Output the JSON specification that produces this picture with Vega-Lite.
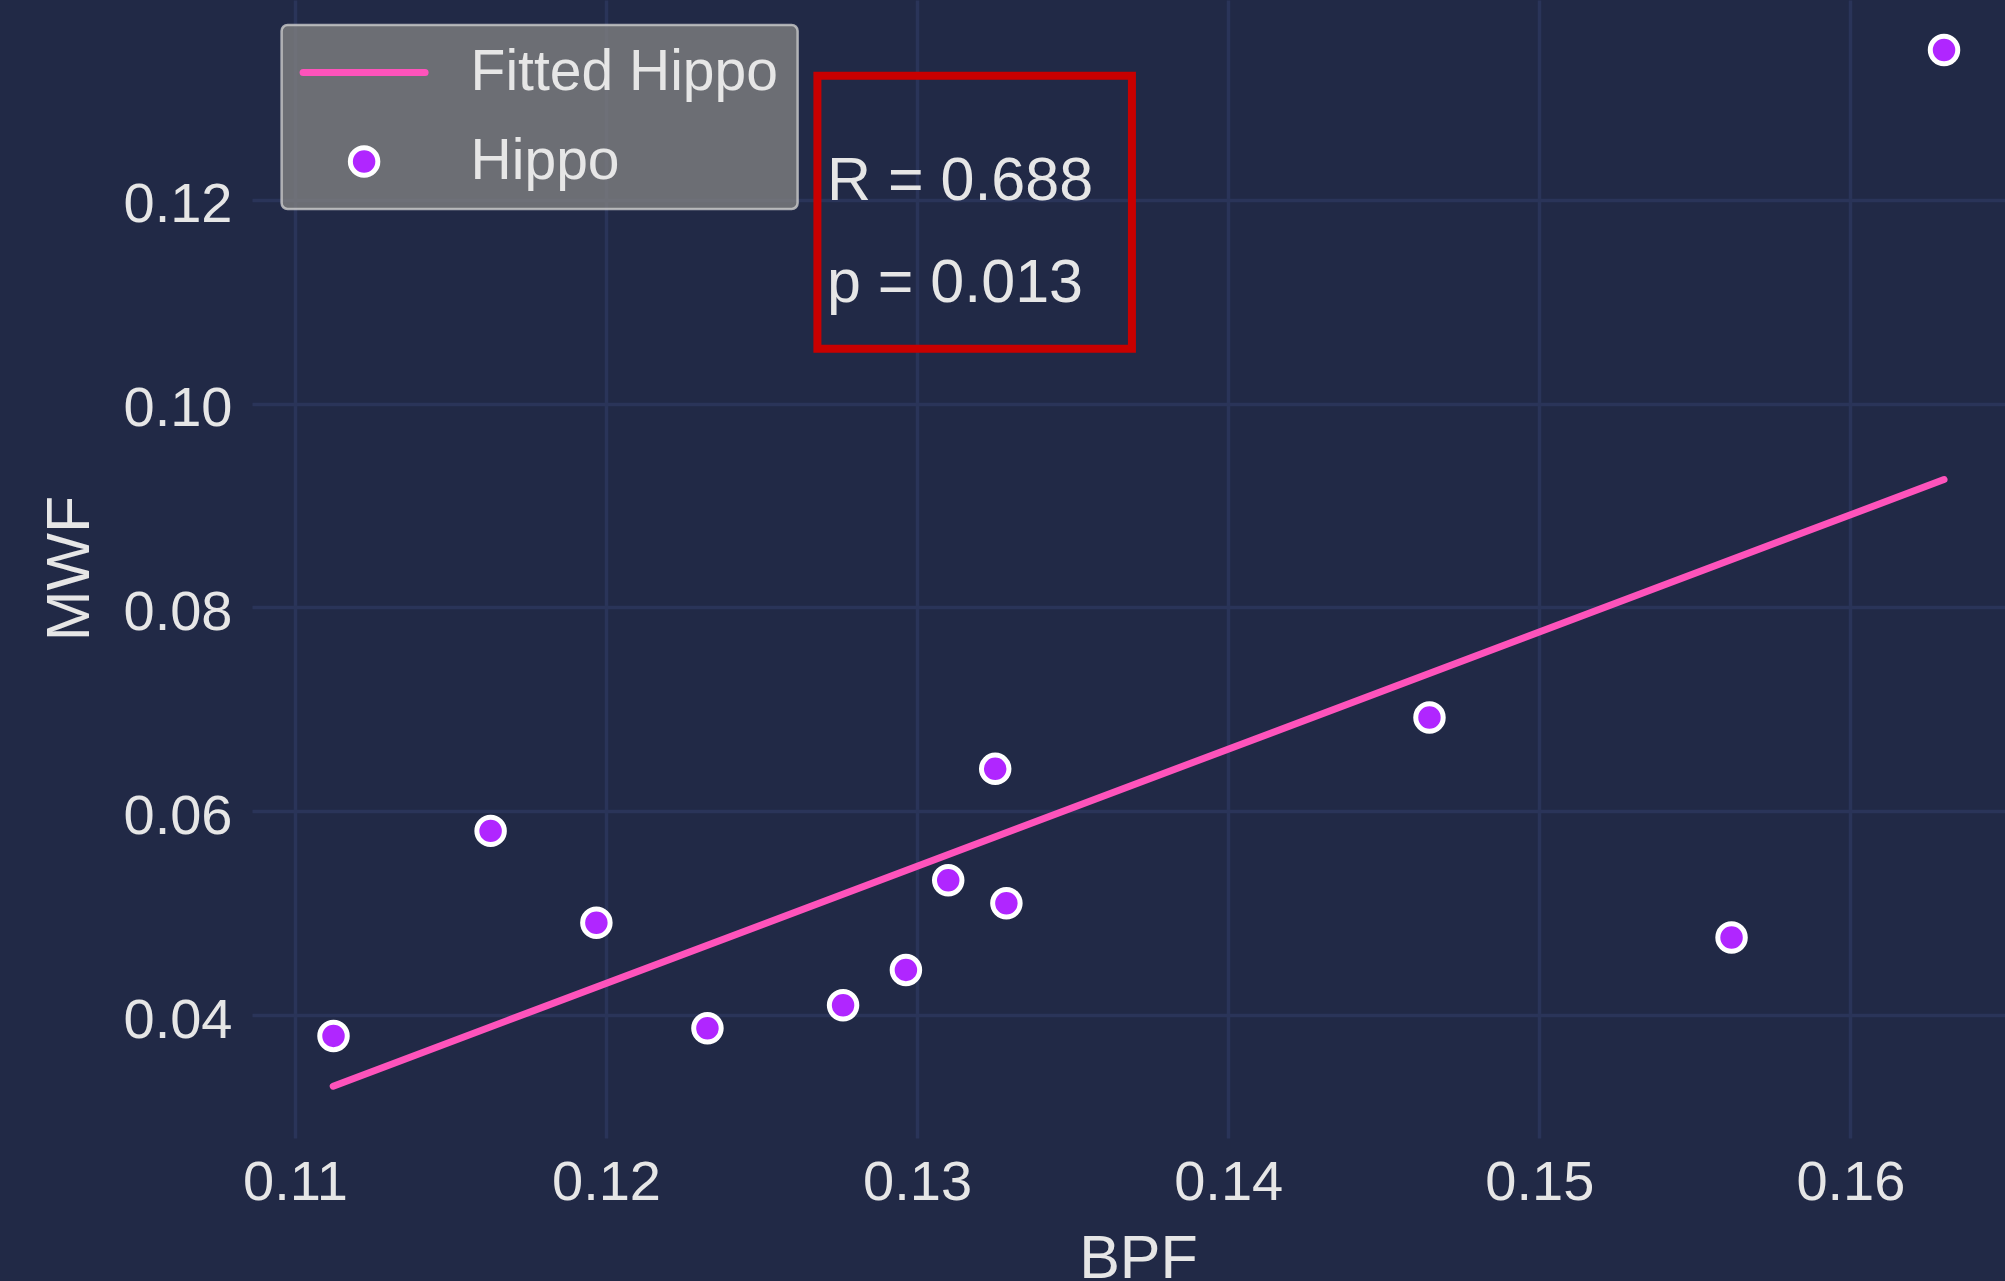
{
  "$schema": "https://vega.github.io/schema/vega-lite/v6.json",
  "width": 1753,
  "height": 1138,
  "autosize": {"type": "none"},
  "padding": {"left": 252, "top": 0, "right": 0, "bottom": 143},
  "background": "#212946",
  "config": {
    "view": {"stroke": null, "fill": "#212946"},
    "font": "Liberation Sans",
    "axis": {
      "grid": true,
      "gridColor": "#2A3459",
      "gridWidth": 3.5,
      "domain": false,
      "ticks": false,
      "tickSize": 0,
      "labelFont": "Liberation Sans",
      "labelFontSize": 56,
      "labelColor": "#E6E6E6",
      "titleFont": "Liberation Sans",
      "titleFontSize": 61,
      "titleFontWeight": "normal",
      "titleColor": "#E6E6E6"
    }
  },
  "datasets": {
    "hippo": [
      {"BPF": 0.11124, "MWF": 0.0380, "series": "Hippo"},
      {"BPF": 0.11629, "MWF": 0.0581, "series": "Hippo"},
      {"BPF": 0.11969, "MWF": 0.0491, "series": "Hippo"},
      {"BPF": 0.12326, "MWF": 0.03875, "series": "Hippo"},
      {"BPF": 0.12762, "MWF": 0.0410, "series": "Hippo"},
      {"BPF": 0.12964, "MWF": 0.04447, "series": "Hippo"},
      {"BPF": 0.13100, "MWF": 0.05326, "series": "Hippo"},
      {"BPF": 0.13251, "MWF": 0.06418, "series": "Hippo"},
      {"BPF": 0.13287, "MWF": 0.05101, "series": "Hippo"},
      {"BPF": 0.14647, "MWF": 0.06922, "series": "Hippo"},
      {"BPF": 0.15618, "MWF": 0.04765, "series": "Hippo"},
      {"BPF": 0.16301, "MWF": 0.13466, "series": "Hippo"}
    ],
    "fit": [
      {"BPF": 0.11123, "MWF": 0.03307, "series": "Fitted Hippo"},
      {"BPF": 0.16301, "MWF": 0.09254, "series": "Fitted Hippo"}
    ],
    "stats": [
      {"lines": "R = 0.688\np = 0.013"}
    ]
  },
  "layer": [
    {
      "data": {"name": "fit"},
      "mark": {"type": "line", "color": "#FE53BB", "strokeWidth": 7, "strokeCap": "round"},
      "encoding": {
        "x": {
          "field": "BPF",
          "type": "quantitative",
          "scale": {"domain": [0.10862, 0.16497], "nice": false, "zero": false},
          "axis": {
            "values": [0.11, 0.12, 0.13, 0.14, 0.15, 0.16],
            "format": ".2f",
            "labelPadding": 17,
            "title": "BPF",
            "titleX": 886,
            "titleY": 139,
            "titleBaseline": "alphabetic",
            "titleAlign": "center"
          }
        },
        "y": {
          "field": "MWF",
          "type": "quantitative",
          "scale": {"domain": [0.02799, 0.139559], "nice": false, "zero": false},
          "axis": {
            "values": [0.04, 0.06, 0.08, 0.10, 0.12],
            "format": ".2f",
            "labelPadding": 20,
            "labelOffset": 5,
            "title": "MWF",
            "titleX": -164,
            "titleY": 568,
            "titleAngle": 270,
            "titleBaseline": "alphabetic",
            "titleAlign": "center"
          }
        }
      }
    },
    {
      "data": {"name": "hippo"},
      "mark": {"type": "point", "filled": true, "size": 755, "stroke": "#FFFFFF", "strokeWidth": 5, "opacity": 1},
      "encoding": {
        "x": {"field": "BPF", "type": "quantitative"},
        "y": {"field": "MWF", "type": "quantitative"},
        "color": {
          "field": "series",
          "type": "nominal",
          "scale": {"domain": ["Fitted Hippo", "Hippo"], "range": ["#FE53BB", "#B026FF"]},
          "legend": {
            "orient": "none",
            "legendX": 29.6,
            "legendY": 25,
            "title": null,
            "fillColor": "rgba(128,128,128,0.8)",
            "strokeColor": "rgba(204,204,204,0.8)",
            "cornerRadius": 6,
            "padding": 19,
            "labelFont": "Liberation Sans",
            "labelFontSize": 57,
            "labelColor": "#E6E6E6",
            "labelLimit": 600,
            "symbolSize": 676,
            "symbolStrokeWidth": 5,
            "rowPadding": 31,
            "symbolOffset": 35,
            "labelOffset": 78,
            "encoding": {
              "legend": {
                "strokeWidth": {"value": 2.5}
              },
              "symbols": {
                "shape": {"value": {"expr": "datum.value === 'Fitted Hippo' ? 'stroke' : 'circle'"}},
                "size": {"value": {"expr": "datum.value === 'Fitted Hippo' ? 14884 : 755"}},
                "stroke": {"value": {"expr": "datum.value === 'Fitted Hippo' ? '#FE53BB' : '#FFFFFF'"}},
                "strokeWidth": {"value": {"expr": "datum.value === 'Fitted Hippo' ? 7 : 5"}},
                "strokeCap": {"value": "round"},
                "opacity": {"value": 1}
              }
            }
          }
        }
      }
    },
    {
      "data": {"name": "stats"},
      "mark": {"type": "rect", "filled": false, "fill": null, "stroke": "#C80000", "strokeWidth": 8, "strokeJoin": "miter"},
      "encoding": {
        "x": {"datum": 0.126795, "type": "quantitative"},
        "x2": {"datum": 0.136905},
        "y": {"datum": 0.132127, "type": "quantitative"},
        "y2": {"datum": 0.105363}
      }
    },
    {
      "data": {"name": "stats"},
      "mark": {
        "type": "text",
        "align": "left",
        "baseline": "alphabetic",
        "lineBreak": "\n",
        "lineHeight": 101.7,
        "font": "Liberation Sans",
        "fontSize": 61,
        "color": "#E6E6E6"
      },
      "encoding": {
        "x": {"datum": 0.127101, "type": "quantitative"},
        "y": {"datum": 0.11995, "type": "quantitative"},
        "text": {"field": "lines", "type": "nominal"}
      }
    }
  ]
}
